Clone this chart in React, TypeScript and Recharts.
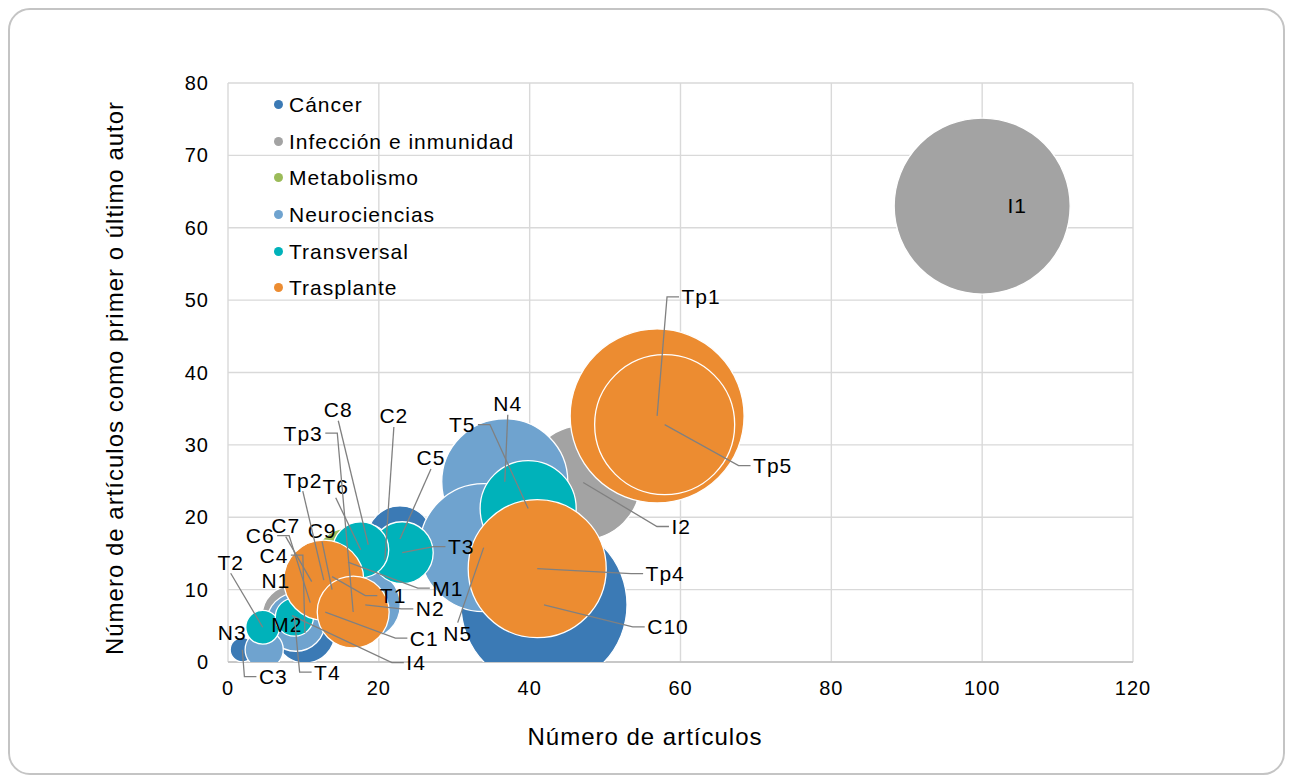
import React from 'react';
import { ScatterChart, Scatter, XAxis, YAxis, ZAxis, CartesianGrid, Legend } from 'recharts';

// ---------- data ----------
const categories = ['Cáncer', 'Infección e inmunidad', 'Metabolismo', 'Neurociencias', 'Transversal', 'Trasplante'];
const colors = ['#3B7AB5', '#A3A3A3', '#9BBB59', '#6FA3CF', '#00B2BA', '#EC8C31'];

const xTicks = [0, 20, 40, 60, 80, 100, 120];
const yTicks = [0, 10, 20, 30, 40, 50, 60, 70, 80];

const cancer = [
  { name: 'C1', x: 12.9, y: 6.9, z: 2.9 },
  { name: 'C2', x: 20.8, y: 14.1, z: 6.2 },
  { name: 'C3', x: 1.9, y: 1.7, z: 1.9 },
  { name: 'C4', x: 10.2, y: 4.0, z: 11.6 },
  { name: 'C5', x: 22.8, y: 17.0, z: 14.1 },
  { name: 'C6', x: 10.9, y: 8.2, z: 4.2 },
  { name: 'C7', x: 11.1, y: 11.1, z: 4.2 },
  { name: 'C8', x: 18.6, y: 16.2, z: 5.2 },
  { name: 'C9', x: 13.8, y: 10.0, z: 4.2 },
  { name: 'C10', x: 41.9, y: 7.9, z: 89 },
];
const infeccion = [
  { name: 'I1', x: 100, y: 63, z: 100 },
  { name: 'I2', x: 47.1, y: 24.8, z: 42 },
  { name: 'I4', x: 8.5, y: 6.4, z: 11.6 },
];
const metabolismo = [
  { name: 'M1', x: 15.9, y: 13.8, z: 14.9 },
  { name: 'M2', x: 8.2, y: 5.5, z: 2.9 },
];
const neuro = [
  { name: 'N1', x: 9.0, y: 5.5, z: 10.9 },
  { name: 'N2', x: 18.2, y: 7.9, z: 15.8 },
  { name: 'N3', x: 4.8, y: 1.7, z: 4.7 },
  { name: 'N4', x: 36.7, y: 24.9, z: 51.3 },
  { name: 'N5', x: 33.9, y: 15.8, z: 52.9 },
];
const transversal = [
  { name: 'T1', x: 13.8, y: 11.8, z: 2.9 },
  { name: 'T2', x: 4.6, y: 4.8, z: 3.7 },
  { name: 'T3', x: 23.1, y: 15.1, z: 12.4 },
  { name: 'T4', x: 8.8, y: 6.2, z: 4.7 },
  { name: 'T5', x: 39.8, y: 21.2, z: 29.8 },
  { name: 'T6', x: 17.6, y: 15.5, z: 10.1 },
];
const trasplante = [
  { name: 'Tp1', x: 56.9, y: 34.0, z: 97.7 },
  { name: 'Tp2', x: 12.7, y: 11.3, z: 20.7 },
  { name: 'Tp3', x: 16.6, y: 6.9, z: 16.7 },
  { name: 'Tp4', x: 41.0, y: 12.9, z: 61.5 },
  { name: 'Tp5', x: 57.9, y: 32.8, z: 63.3 },
];

const seriesData = [cancer, infeccion, metabolismo, neuro, transversal, trasplante];

// label placement (pixel offset of the label from its bubble centre, and leader attachment side)
const labelLayout: Record<string, [number, number, string]> = {
  I1: [35, -1, 'N'],
  Tp1: [44, -119, 'L'],
  Tp5: [108, 41, 'L'],
  I2: [98, 44, 'L'],
  Tp4: [128, 5, 'L'],
  C10: [124, 22, 'L'],
  N5: [-26, 86, 'T'],
  N4: [3, -78, 'B'],
  T5: [-66, -84, 'R'],
  T3: [59, -6, 'L'],
  C5: [31, -81, 'B'],
  C2: [9, -144, 'B'],
  C8: [-30, -135, 'B'],
  Tp3: [-50, -179, 'R'],
  T6: [-25, -63, 'B'],
  Tp2: [-21, -100, 'B'],
  C7: [-26, -56, 'B'],
  C6: [-50, -67, 'R'],
  C4: [-31, -78, 'R'],
  C9: [-10, -59, 'B'],
  N1: [-20, -42, 'N'],
  T2: [-32, -65, 'B'],
  N3: [-32, -17, 'N'],
  C3: [31, 27, 'L'],
  M2: [-3, 2, 'N'],
  T4: [33, 55, 'L'],
  T1: [61, 19, 'L'],
  N2: [65, 4, 'L'],
  C1: [99, 26, 'L'],
  I4: [124, 47, 'L'],
  M1: [100, 26, 'L'],
};

const allPoints = seriesData.flat().map((d) => ({ name: d.name, x: d.x, y: d.y, z: 0 }));

const FONT = '"Liberation Sans", Arial, Helvetica, sans-serif';
const LABEL_SIZE = 21;
const charW: Record<string, number> = { T: 0.611, p: 0.556, C: 0.722, N: 0.722, M: 0.833, I: 0.278 };
const textWidth = (s: string) =>
  s.split('').reduce((a, ch) => a + (charW[ch] ?? 0.556) * LABEL_SIZE, 0) + (s.length - 1) * 1;

const Bubble = (props: any) => {
  const { cx, cy, fill } = props;
  const r = props.width ? props.width / 2 : Math.sqrt(Math.max(props.size || 0, 0) / Math.PI);
  if (cx == null || cy == null || !isFinite(r)) return null;
  return <circle cx={cx} cy={cy} r={r} fill={fill} stroke="#ffffff" strokeWidth={1.3} />;
};

const BubbleLabel = (props: any) => {
  const { cx, cy, payload } = props;
  if (cx == null || cy == null || !payload) return null;
  const lay = labelLayout[payload.name];
  if (!lay) return null;
  const [dx, dy, side] = lay;
  const tx = cx + dx;
  const ty = cy + dy;
  const w = textWidth(payload.name);
  let pts: string | null = null;
  if (side === 'L') {
    const x0 = tx - w / 2 - 3;
    pts = `${cx},${cy} ${x0 - 12},${ty} ${x0},${ty}`;
  } else if (side === 'R') {
    const x0 = tx + w / 2 + 3;
    pts = `${cx},${cy} ${x0 + 12},${ty} ${x0},${ty}`;
  } else if (side === 'B') {
    pts = `${cx},${cy} ${tx},${ty + 11}`;
  } else if (side === 'T') {
    pts = `${cx},${cy} ${tx},${ty - 11}`;
  }
  return (
    <g>
      {pts && <polyline points={pts} fill="none" stroke="#808080" strokeWidth={1.3} />}
      <text
        x={tx}
        y={ty}
        textAnchor="middle"
        dominantBaseline="central"
        fontSize={LABEL_SIZE}
        fill="#000"
        style={{ fontFamily: FONT, letterSpacing: '1px' }}
      >
        {payload.name}
      </text>
    </g>
  );
};

const renderLegend = () => (
  <div style={{ display: 'flex', flexDirection: 'column', fontFamily: FONT, letterSpacing: '1px' }}>
    {categories.map((c, i) => (
      <div key={c} style={{ height: 36.7, display: 'flex', alignItems: 'center' }}>
        <span
          style={{
            display: 'inline-block',
            width: 9,
            height: 9,
            borderRadius: '50%',
            background: colors[i],
            marginRight: 6,
            flex: 'none',
          }}
        />
        <span style={{ fontSize: 21, color: '#000', lineHeight: '21px', whiteSpace: 'nowrap' }}>{c}</span>
      </div>
    ))}
  </div>
);

export default function App() {
  return (
    <div style={{ position: 'relative', width: 1277, height: 767, fontFamily: FONT, letterSpacing: '1px' }}>
      <div
        style={{
          position: 'absolute',
          inset: 0,
          border: '2px solid #c4c4c4',
          borderRadius: 22,
          boxSizing: 'border-box',
          pointerEvents: 'none',
        }}
      />
      <ScatterChart
        width={1277}
        height={767}
        margin={{ top: 75, right: 152, left: 160, bottom: 83 }}
        style={{ position: 'absolute', left: 0, top: 0 }}
      >
        <CartesianGrid stroke="#d9d9d9" strokeWidth={1.4} />
        <XAxis
          type="number"
          dataKey="x"
          domain={[0, 120]}
          ticks={xTicks}
          height={30}
          axisLine={{ stroke: '#bfbfbf', strokeWidth: 1.4 }}
          tickLine={false}
          tickMargin={13}
          tick={{ fontSize: 20, fill: '#000' }}
        />
        <YAxis
          type="number"
          dataKey="y"
          domain={[0, 80]}
          ticks={yTicks}
          allowDataOverflow
          width={60}
          axisLine={false}
          tickLine={false}
          tickMargin={13}
          tick={{ fontSize: 20, fill: '#000' }}
        />
        <YAxis yAxisId="lbl" type="number" dataKey="y" domain={[0, 80]} hide width={0} />
        <ZAxis type="number" dataKey="z" domain={[0, 100]} range={[0, Math.PI * 88 * 88]} />
        <Legend
          layout="vertical"
          align="center"
          verticalAlign="middle"
          content={renderLegend}
          wrapperStyle={{ left: 266, top: 78, width: 320 }}
        />
        {categories.map((c, i) => (
          <Scatter
            key={c}
            name={c}
            data={seriesData[i]}
            fill={colors[i]}
            shape={Bubble}
            isAnimationActive={false}
          />
        ))}
        <Scatter
          name="labels"
          yAxisId="lbl"
          data={allPoints}
          fill="none"
          legendType="none"
          shape={BubbleLabel}
          isAnimationActive={false}
        />
      </ScatterChart>
      <div
        style={{
          position: 'absolute',
          left: 637,
          top: 729,
          transform: 'translate(-50%, -50%)',
          fontSize: 24,
          color: '#000',
          whiteSpace: 'nowrap',
        }}
      >
        Número de artículos
      </div>
      <div
        style={{
          position: 'absolute',
          left: 107,
          top: 370,
          transform: 'translate(-50%, -50%) rotate(-90deg)',
          fontSize: 24,
          color: '#000',
          whiteSpace: 'nowrap',
        }}
      >
        Número de artículos como primer o último autor
      </div>
    </div>
  );
}
